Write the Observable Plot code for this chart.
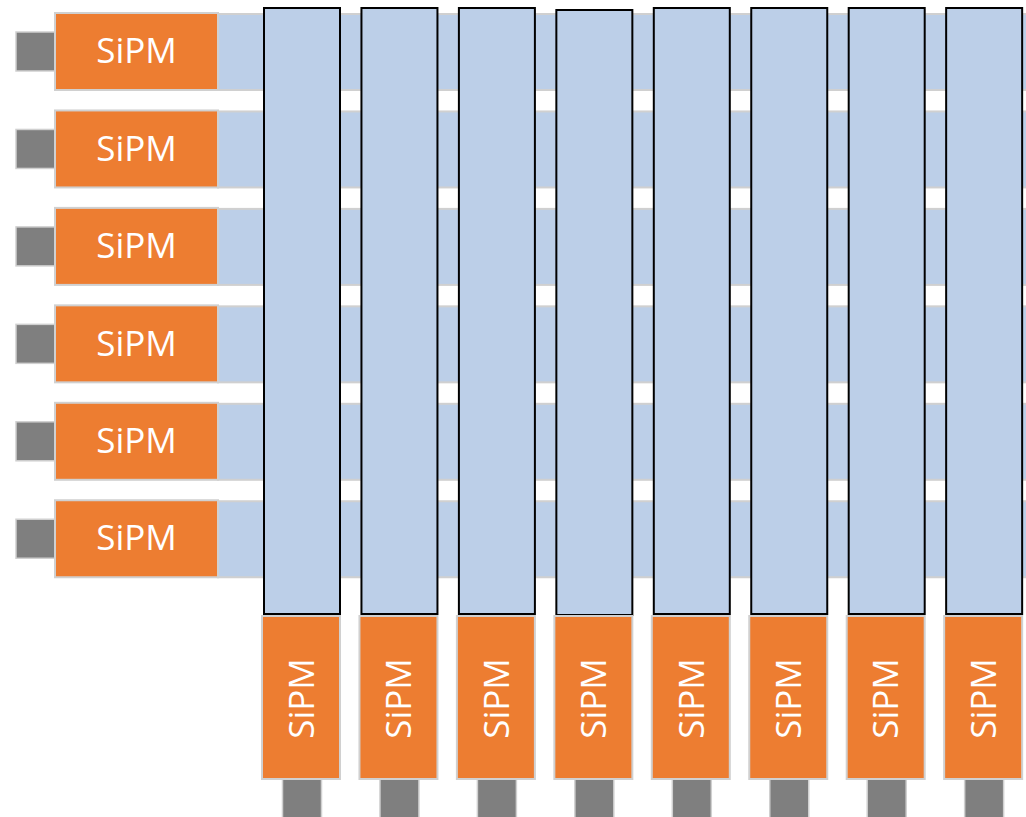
<!DOCTYPE html>
<html>
<head>
<meta charset="utf-8">
<script src="https://cdn.jsdelivr.net/npm/d3@7"></script>
<script src="https://cdn.jsdelivr.net/npm/@observablehq/plot@0.6"></script>
<style>
  html, body { margin: 0; padding: 0; background: #ffffff; }
  #chart svg { display: block; }
</style>
</head>
<body>
<div id="chart"></div>
<script>
// Diagram content: 6 horizontal fibres read out on the left, 8 vertical fibres read out at the bottom
const rowIds = [1, 2, 3, 4, 5, 6];
const colIds = [1, 2, 3, 4, 5, 6, 7, 8];
const colOffsets = [0, 0, 0, 2, 0, 0, 0, 0]; // the 4th vertical fibre sits slightly lower
const sensorLabel = "SiPM";

// layout (pixel units of the diagram)
const W = 1026, H = 817;
const pitch = 97.45;
const rowTop0 = 13, rowH = 77;
const colLeft0 = 264, colW = 76;

const hFibres = rowIds.map((r, i) => ({id: r, x1: 218, x2: W + 4, y1: rowTop0 + i * pitch + 1, y2: rowTop0 + i * pitch + rowH}));
const leftSensors = rowIds.map((r, i) => ({id: r, x1: 55, x2: 218, y1: rowTop0 + i * pitch, y2: rowTop0 + i * pitch + rowH, cx: 136, cy: rowTop0 + i * pitch + rowH / 2}));
const leftPins = rowIds.map((r, i) => ({id: r, x1: 16, x2: 55, y1: rowTop0 + i * pitch + rowH / 2 - 19.5, y2: rowTop0 + i * pitch + rowH / 2 + 19.5}));
const vFibres = colIds.map((c, j) => ({id: c, x1: colLeft0 + j * pitch, x2: colLeft0 + j * pitch + colW, y1: 8 + colOffsets[j], y2: 614 + colOffsets[j] / 2}));
const bottomSensors = colIds.map((c, j) => ({id: c, x1: colLeft0 - 2 + j * pitch, x2: colLeft0 - 2 + j * pitch + 78, y1: 616, y2: 779, cx: colLeft0 + j * pitch + colW / 2, cy: 698}));
const bottomPins = colIds.map((c, j) => ({id: c, x1: colLeft0 + colW / 2 - 19.5 + j * pitch, x2: colLeft0 + colW / 2 + 19.5 + j * pitch, y1: 779, y2: 820}));

const orange = "#ED7D31", blue = "#BCCFE8", grey = "#7F7F7F", edge = "#D0D0D0";
const font = "'Open Sans', 'DejaVu Sans', sans-serif";

const chart = Plot.plot({
  width: W,
  height: H,
  margin: 0,
  x: {domain: [0, W], range: [0, W], axis: null},
  y: {domain: [0, H], range: [0, H], axis: null},
  style: {background: "#ffffff"},
  marks: [
    Plot.rect(hFibres, {x1: "x1", x2: "x2", y1: "y1", y2: "y2", fill: blue, stroke: edge, strokeWidth: 2, clip: true}),
    Plot.rect(leftPins, {x1: "x1", x2: "x2", y1: "y1", y2: "y2", fill: grey, stroke: edge, strokeWidth: 1.5}),
    Plot.rect(leftSensors, {x1: "x1", x2: "x2", y1: "y1", y2: "y2", fill: orange, stroke: edge, strokeWidth: 2}),
    Plot.text(leftSensors, {x: "cx", y: "cy", text: () => sensorLabel, fill: "white", fontSize: 35, fontFamily: font}),
    Plot.rect(vFibres, {x1: "x1", x2: "x2", y1: "y1", y2: "y2", fill: blue, stroke: "#000000", strokeWidth: 2}),
    Plot.rect(bottomPins, {x1: "x1", x2: "x2", y1: "y1", y2: "y2", fill: grey, stroke: edge, strokeWidth: 1.5, clip: true}),
    Plot.rect(bottomSensors, {x1: "x1", x2: "x2", y1: "y1", y2: "y2", fill: orange, stroke: edge, strokeWidth: 2}),
    Plot.text(bottomSensors, {x: "cx", y: "cy", text: () => sensorLabel, fill: "white", fontSize: 35, fontFamily: font, rotate: -90})
  ]
});
document.getElementById("chart").appendChild(chart);
</script>
</body>
</html>
